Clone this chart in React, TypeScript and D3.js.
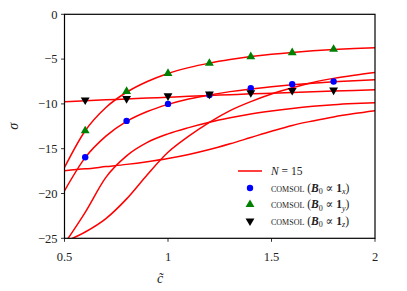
import React from 'react';
import * as d3 from 'd3';

// c~ sample grid for the N = 15 curves
const cGrid = [0.5, 0.6, 0.7, 0.8, 0.9, 1.0, 1.1, 1.2, 1.3, 1.4, 1.5, 1.6, 1.7, 1.8, 1.9, 2.0];

const curveY = [-17.1, -13.0, -10.4, -8.7, -7.5, -6.6, -5.95, -5.45, -5.05, -4.72, -4.46, -4.25, -4.08, -3.94, -3.82, -3.72];
const curveX = [-19.7, -16.0, -13.6, -11.95, -10.85, -10.05, -9.45, -9.0, -8.63, -8.33, -8.08, -7.87, -7.69, -7.54, -7.41, -7.3];
const curveZ = [-9.75, -9.65, -9.55, -9.45, -9.35, -9.25, -9.15, -9.06, -8.97, -8.88, -8.8, -8.72, -8.64, -8.57, -8.5, -8.43];
const curveA = [-25.6, -22.1, -18.2, -15.8, -14.3, -13.35, -12.65, -12.05, -11.55, -11.12, -10.78, -10.5, -10.27, -10.09, -9.96, -9.86];
const curveB = [-25.4, -24.3, -22.8, -20.6, -17.9, -15.4, -13.6, -12.05, -10.75, -9.75, -8.9, -8.2, -7.6, -7.15, -6.8, -6.5];
const curveC = [-17.45, -17.25, -17.0, -16.75, -16.45, -16.1, -15.65, -15.1, -14.45, -13.75, -13.05, -12.4, -11.9, -11.45, -11.08, -10.76];

// COMSOL reference points
const comsolC = [0.6, 0.8, 1.0, 1.2, 1.4, 1.6, 1.8];
const comsolX = [-15.96, -11.9, -10.0, -9.0, -8.26, -7.8, -7.5];
const comsolY = [-13.0, -8.6, -6.6, -5.47, -4.73, -4.28, -3.9];
const comsolZ = [-9.56, -9.4, -9.1, -8.9, -8.75, -8.5, -8.45];

const xTicks = [0.5, 1, 1.5, 2];
const yTicks = [0, -5, -10, -15, -20, -25];

const W = 407;
const H = 291;
const m = { left: 64.5, right: 375, top: 14.3, bottom: 238.3 };
const font = '"Liberation Serif", "DejaVu Serif", serif';

export default function App() {
  const x = d3.scaleLinear().domain([0.5, 2]).range([m.left, m.right]);
  const y = d3.scaleLinear().domain([-25, 0]).range([m.bottom, m.top]);

  const line = d3.line<number>()
    .x((_, i) => x(cGrid[i]))
    .y(d => y(d))
    .curve(d3.curveMonotoneX);

  const curves = [curveY, curveX, curveZ, curveA, curveB, curveC];
  const tri = d3.symbol().type(d3.symbolTriangle).size(34)();

  const fmt = (v: number) => (v < 0 ? '\u2212' + Math.abs(v) : String(v));

  const legX = 238;
  const legRows = [171, 188, 204.5, 221];

  const comsolLabel = (sub: string) => (
    <>
      <tspan style={{ fontVariant: 'small-caps' }}>comsol</tspan>
      <tspan> (</tspan>
      <tspan fontWeight="bold" fontStyle="italic">B</tspan>
      <tspan fontSize="8" dy="2.5">0</tspan>
      <tspan dy="-2.5"> ∝ </tspan>
      <tspan fontWeight="bold">1</tspan>
      <tspan fontSize="8" fontStyle="italic" dy="2.5">{sub}</tspan>
      <tspan dy="-2.5">)</tspan>
    </>
  );

  return (
    <div style={{ position: 'fixed', left: 0, top: 0 }}>
      <svg width={W} height={H} style={{ display: 'block', background: '#fff' }} fontFamily={font}>
        <defs>
          <clipPath id="plot">
            <rect x={m.left} y={m.top} width={m.right - m.left} height={m.bottom - m.top} />
          </clipPath>
        </defs>
        <g clipPath="url(#plot)">
          {curves.map((c, i) => (
            <path key={i} d={line(c) || ''} fill="none" stroke="#ff0000" strokeWidth={1.5} />
          ))}
        </g>
        {comsolC.map((c, i) => (
          <circle key={'x' + i} cx={x(c)} cy={y(comsolX[i])} r={3.2} fill="#0000ff" />
        ))}
        {comsolC.map((c, i) => (
          <path key={'y' + i} d={tri || ''} transform={`translate(${x(c)},${y(comsolY[i])})`} fill="#008000" />
        ))}
        {comsolC.map((c, i) => (
          <path key={'z' + i} d={tri || ''} transform={`translate(${x(c)},${y(comsolZ[i])}) rotate(180)`} fill="#000" />
        ))}

        <rect x={m.left} y={m.top} width={m.right - m.left} height={m.bottom - m.top} fill="none" stroke="#000" strokeWidth={1.2} />

        {xTicks.map(t => (
          <g key={'xt' + t}>
            <line x1={x(t)} x2={x(t)} y1={m.bottom} y2={m.bottom + 3.5} stroke="#000" strokeWidth={0.8} />
            <text x={x(t)} y={m.bottom + 23} textAnchor="middle" fontSize={12.5} fill="#222">{t}</text>
          </g>
        ))}
        {yTicks.map(t => (
          <g key={'yt' + t}>
            <line x1={m.left - 3.5} x2={m.left} y1={y(t)} y2={y(t)} stroke="#000" strokeWidth={0.8} />
            <text x={m.left - 7} y={y(t) + 4.2} textAnchor="end" fontSize={12.5} fill="#222">{fmt(t)}</text>
          </g>
        ))}

        <text x={160} y={283} textAnchor="middle" fontSize={14} fontStyle="italic" fill="#222">c̃</text>
        <text transform={`translate(18,${(m.top + m.bottom) / 2}) rotate(-90)`} textAnchor="middle" fontSize={14} fontStyle="italic" fill="#222">σ</text>

        <line x1={legX} x2={legX + 24} y1={legRows[0]} y2={legRows[0]} stroke="#ff0000" strokeWidth={1.5} />
        <text x={legX + 33} y={legRows[0] + 4} fontSize={11.5} fill="#222">
          <tspan fontStyle="italic">N</tspan> = 15
        </text>
        <circle cx={legX + 12} cy={legRows[1]} r={3.2} fill="#0000ff" />
        <text x={legX + 33} y={legRows[1] + 3.8} fontSize={11.5} fill="#222">{comsolLabel('x')}</text>
        <path d={tri || ''} transform={`translate(${legX + 12},${legRows[2]})`} fill="#008000" />
        <text x={legX + 33} y={legRows[2] + 3.8} fontSize={11.5} fill="#222">{comsolLabel('y')}</text>
        <path d={tri || ''} transform={`translate(${legX + 12},${legRows[3]}) rotate(180)`} fill="#000" />
        <text x={legX + 33} y={legRows[3] + 3.8} fontSize={11.5} fill="#222">{comsolLabel('z')}</text>
      </svg>
    </div>
  );
}
